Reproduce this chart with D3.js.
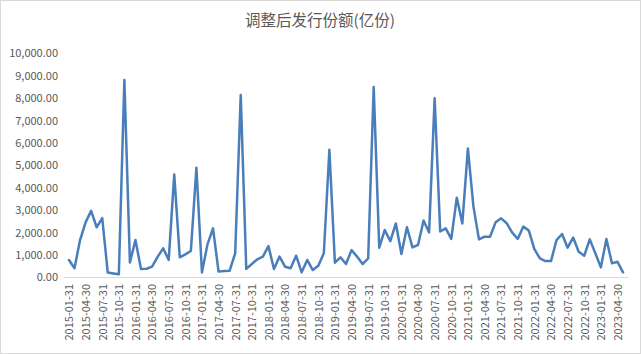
<!DOCTYPE html>
<html><head><meta charset="utf-8">
<script src="https://cdn.jsdelivr.net/npm/d3@7"></script>
<style>
html,body{margin:0;padding:0;background:#fff;}
svg{display:block;}
</style></head>
<body>
<svg id="chart" width="641" height="354"></svg>
<script>
const title = "调整后发行份额(亿份)";
const categories = [
"2015-01-31","2015-02-28","2015-03-31","2015-04-30","2015-05-31","2015-06-30","2015-07-31","2015-08-31","2015-09-30","2015-10-31","2015-11-30","2015-12-31",
"2016-01-31","2016-02-29","2016-03-31","2016-04-30","2016-05-31","2016-06-30","2016-07-31","2016-08-31","2016-09-30","2016-10-31","2016-11-30","2016-12-31",
"2017-01-31","2017-02-28","2017-03-31","2017-04-30","2017-05-31","2017-06-30","2017-07-31","2017-08-31","2017-09-30","2017-10-31","2017-11-30","2017-12-31",
"2018-01-31","2018-02-28","2018-03-31","2018-04-30","2018-05-31","2018-06-30","2018-07-31","2018-08-31","2018-09-30","2018-10-31","2018-11-30","2018-12-31",
"2019-01-31","2019-02-28","2019-03-31","2019-04-30","2019-05-31","2019-06-30","2019-07-31","2019-08-31","2019-09-30","2019-10-31","2019-11-30","2019-12-31",
"2020-01-31","2020-02-29","2020-03-31","2020-04-30","2020-05-31","2020-06-30","2020-07-31","2020-08-31","2020-09-30","2020-10-31","2020-11-30","2020-12-31",
"2021-01-31","2021-02-28","2021-03-31","2021-04-30","2021-05-31","2021-06-30","2021-07-31","2021-08-31","2021-09-30","2021-10-31","2021-11-30","2021-12-31",
"2022-01-31","2022-02-28","2022-03-31","2022-04-30","2022-05-31","2022-06-30","2022-07-31","2022-08-31","2022-09-30","2022-10-31","2022-11-30","2022-12-31",
"2023-01-31","2023-02-28","2023-03-31","2023-04-30","2023-05-31"
];
const values = [
760,390,1650,2440,2950,2220,2630,200,160,120,8790,650,
1650,360,370,460,900,1280,760,4580,880,1010,1160,4880,
200,1460,2170,240,270,280,1060,8120,360,580,790,910,
1380,360,910,460,390,950,210,760,310,500,1060,5680,
640,880,580,1200,910,580,830,8480,1310,2100,1600,2390,
1030,2220,1320,1430,2520,1990,7980,2030,2170,1700,3540,2390,
5740,3140,1680,1800,1800,2440,2620,2400,1980,1700,2250,2070,
1240,830,710,710,1650,1920,1310,1760,1130,950,1680,1060,
430,1700,610,680,210
];
const yTicks = [0,1000,2000,3000,4000,5000,6000,7000,8000,9000,10000];
const labelEvery = 3;

const W = 641, H = 354;
const svg = d3.select("#chart");
const font = "'Noto Sans CJK SC', 'Noto Sans', sans-serif";
const textColor = "#595959";

svg.append("rect").attr("x",0.5).attr("y",0.5).attr("width",W-1).attr("height",H-1)
  .attr("fill","#fff").attr("stroke","#d9d9d9");

svg.append("text").attr("x",320).attr("y",26).attr("text-anchor","middle")
  .attr("font-family",font).attr("font-size",15.5).attr("fill",textColor).text(title);

const x = d3.scalePoint().domain(categories).range([66.2, 625.8]).padding(0.5);
const y = d3.scaleLinear().domain([0,10000]).range([277, 53]);

// y axis
const yAxis = svg.append("g").attr("transform","translate(58,0)")
  .call(d3.axisLeft(y).tickValues(yTicks).tickFormat(d3.format(",.2f")).tickSize(0).tickPadding(0));
yAxis.select(".domain").remove();
yAxis.selectAll("text").attr("font-family",font).attr("font-size",11).attr("fill",textColor).attr("dy","0.35em");

// x axis
const xAxis = svg.append("g").attr("transform","translate(0,277)")
  .call(d3.axisBottom(x).tickValues(categories.filter((d,i)=>i%labelEvery===0)).tickSize(0).tickPadding(0));
xAxis.select(".domain").attr("stroke","#d9d9d9").attr("d","M63.5,0.5H628.5");
xAxis.selectAll("text")
  .attr("font-family",font).attr("font-size",11).attr("fill",textColor)
  .attr("transform","rotate(-90)")
  .attr("text-anchor","end").attr("x",-7).attr("y",0).attr("dy","0.35em");

// line
const line = d3.line().x((d,i)=>x(categories[i])).y(d=>y(d));
svg.append("path").datum(values).attr("d",line)
  .attr("fill","none").attr("stroke","#4a7ebb").attr("stroke-width",2.5)
  .attr("stroke-linejoin","round").attr("stroke-linecap","round");
</script>
</body></html>
